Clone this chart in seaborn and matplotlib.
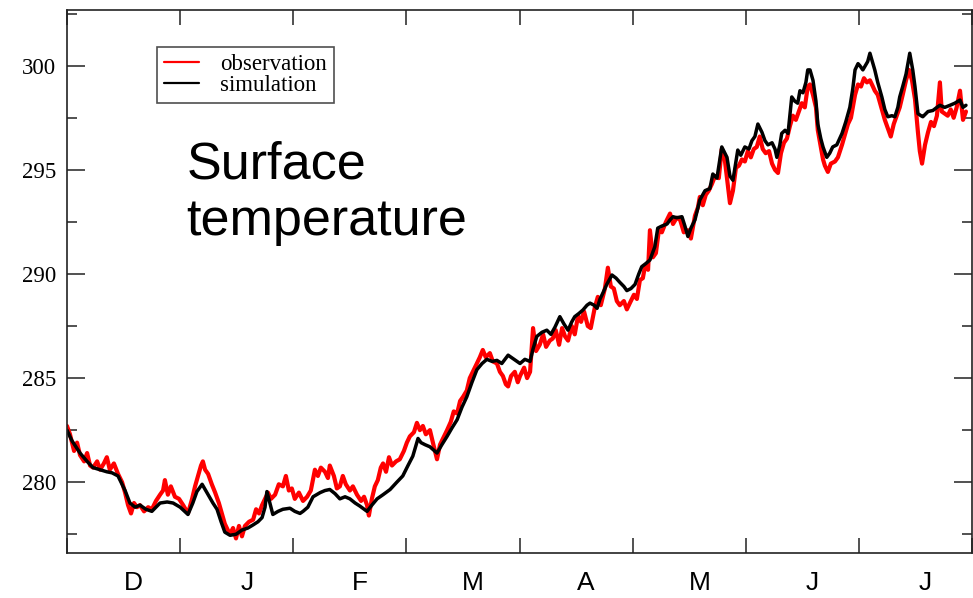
import numpy as np
import pandas as pd
import matplotlib
matplotlib.use("Agg")
import matplotlib.pyplot as plt
import seaborn as sns
from matplotlib.ticker import FixedLocator, FixedFormatter, NullFormatter

# ---------------- data (days since 1 December, temperature in K) ----------------
obs_day = [0.0, 0.8, 1.9, 2.7, 3.5, 4.6, 5.4, 6.2, 7.0, 8.1, 8.9, 9.9, 10.7, 11.5, 12.6, 13.7,
           14.8, 15.6, 16.4, 17.2, 18.0, 18.8, 19.6, 20.7, 21.8, 22.8, 23.9, 25.0, 25.8, 26.3,
           27.1, 27.9, 29.0, 30.1, 31.2, 32.5, 33.6, 34.4, 35.2, 36.0, 36.5, 37.1, 37.9, 38.9,
           39.8, 40.8, 41.6, 42.4, 43.2, 43.8, 44.6, 45.4, 46.2, 47.0, 47.8, 48.9, 50.0, 50.8,
           51.6, 52.4, 53.2, 54.0, 54.8, 55.9, 56.9, 58.0, 58.8, 59.6, 60.4, 61.2, 62.3, 63.4,
           64.5, 65.5, 66.6, 67.4, 68.2, 69.3, 70.1, 70.6, 71.7, 72.5, 73.3, 74.1, 74.9, 76.0,
           76.8, 77.9, 79.0, 79.8, 80.6, 81.1, 81.9, 82.7, 83.5, 84.3, 84.9, 85.7, 86.5, 87.3,
           88.4, 89.4, 90.5, 91.3, 92.1, 93.2, 94.0, 94.8, 95.6, 96.4, 97.5, 98.3, 99.4, 100.2,
           101.3, 102.1, 103.1, 103.9, 104.8, 105.6, 106.4, 107.4, 108.2, 109.3, 110.1, 110.9,
           111.7, 112.5, 113.6, 114.4, 115.5, 116.3, 117.1, 117.9, 118.5, 119.3, 120.3, 121.1,
           121.7, 122.8, 123.6, 124.4, 125.2, 126.0, 127.0, 127.9, 128.7, 129.7, 130.5, 131.3,
           132.2, 133.0, 133.8, 134.6, 135.6, 136.4, 137.3, 138.1, 138.9, 139.9, 140.7, 141.8,
           142.6, 143.4, 144.5, 145.3, 146.1, 146.9, 147.7, 148.5, 149.6, 150.4, 151.2, 152.3,
           153.1, 153.9, 154.7, 155.3, 156.1, 156.6, 157.4, 158.2, 159.0, 159.8, 160.9, 162.0,
           162.8, 163.8, 164.7, 165.7, 166.8, 167.6, 168.7, 169.5, 170.0, 170.8, 171.6, 172.4,
           173.2, 174.1, 175.1, 175.9, 176.7, 177.5, 178.1, 178.9, 179.7, 180.5, 181.3, 182.1,
           182.9, 183.7, 184.5, 185.3, 186.1, 186.9, 187.7, 188.6, 189.4, 190.2, 191.0, 191.8,
           192.6, 193.4, 194.2, 195.0, 195.8, 196.6, 197.4, 198.2, 199.0, 199.6, 200.4, 201.2,
           201.7, 202.3, 203.1, 203.6, 204.4, 205.2, 206.3, 207.1, 208.2, 209.0, 209.8, 210.6,
           211.7, 212.5, 213.3, 214.1, 214.9, 215.7, 216.5, 217.0, 217.8, 218.9, 219.7, 220.5,
           221.3, 222.1, 222.9, 223.7, 224.5, 225.4, 226.2, 227.0, 227.8, 228.6, 229.1, 229.7,
           230.5, 231.3, 232.1, 232.9, 233.7, 234.5, 235.0, 235.8, 236.6, 237.4, 238.2, 239.0,
           239.9, 240.7, 241.5]
obs_temp = [282.7, 282.3, 281.5, 281.9, 281.3, 281.0, 281.4, 280.8, 280.7, 281.0, 280.6, 280.9,
            281.2, 280.6, 280.9, 280.4, 280.0, 279.5, 278.9, 278.5, 279.0, 278.8, 278.9, 278.6,
            278.8, 278.7, 279.1, 279.4, 279.6, 280.1, 279.4, 279.8, 279.3, 279.2, 278.9, 278.5,
            279.2, 279.8, 280.3, 280.8, 281.0, 280.6, 280.4, 279.9, 279.5, 279.0, 278.5, 278.0,
            277.7, 277.5, 277.8, 277.3, 277.9, 277.4, 277.9, 278.1, 278.2, 278.7, 278.5, 278.9,
            279.2, 279.5, 279.2, 279.4, 279.9, 279.8, 280.3, 279.6, 279.7, 279.2, 279.5, 279.1,
            279.3, 279.6, 280.6, 280.3, 280.7, 280.5, 280.2, 280.8, 280.3, 279.7, 279.8, 280.3,
            279.9, 279.6, 279.8, 279.4, 279.1, 279.3, 278.9, 278.4, 279.2, 279.8, 280.1, 280.7,
            280.9, 280.5, 281.2, 280.8, 281.0, 281.1, 281.5, 281.9, 282.2, 282.4, 282.85, 282.5,
            282.7, 282.3, 282.5, 281.9, 281.1, 281.8, 282.2, 282.5, 282.9, 283.4, 283.3, 283.9,
            284.1, 284.4, 285.0, 285.4, 285.7, 286.0, 286.35, 286.0, 286.2, 285.8, 285.7, 285.3,
            285.1, 284.7, 284.6, 285.1, 285.3, 284.8, 285.1, 285.5, 285.0, 285.3, 287.4, 286.3,
            286.6, 287.1, 286.5, 286.8, 286.9, 287.3, 286.6, 287.4, 287.0, 286.8, 287.5, 287.1,
            288.0, 287.7, 288.2, 287.5, 287.4, 288.4, 288.9, 288.5, 289.3, 290.3, 289.4, 289.3,
            288.7, 288.5, 288.7, 288.3, 288.6, 289.0, 288.8, 289.7, 289.8, 290.4, 290.2, 292.1,
            290.8, 291.0, 292.1, 292.0, 292.5, 292.9, 292.4, 292.7, 292.6, 292.0, 292.1, 291.7,
            292.8, 293.2, 293.7, 293.3, 293.8, 294.0, 294.3, 294.7, 294.6, 296.0, 295.5, 294.3,
            293.4, 294.0, 295.1, 295.2, 295.5, 295.4, 295.9, 295.6, 296.0, 296.1, 296.6, 296.0,
            295.8, 295.9, 295.3, 295.0, 294.85, 295.8, 296.3, 296.5, 297.1, 297.6, 297.4, 297.8,
            298.2, 298.0, 299.0, 299.1, 298.6, 298.0, 296.9, 296.3, 295.5, 295.2, 294.9, 295.3,
            295.4, 295.6, 296.2, 296.7, 297.2, 297.5, 298.6, 299.1, 299.0, 299.4, 299.2, 299.3,
            299.0, 298.8, 298.6, 297.9, 297.4, 297.0, 296.6, 297.2, 297.6, 298.0, 298.6, 299.3,
            299.8, 299.3, 298.4, 296.8, 295.9, 295.3, 296.2, 296.8, 297.3, 297.1, 297.6, 299.2,
            297.8, 297.7, 297.6, 297.9, 297.5, 298.0, 298.8, 297.4, 297.8]

sim_day = [0.0, 1.3, 3.5, 5.4, 7.0, 8.9, 10.7, 12.1, 13.7, 15.6, 16.9, 18.3, 19.6, 21.2, 22.8,
           25.0, 26.9, 28.5, 30.4, 32.5, 33.8, 34.9, 36.3, 37.9, 39.2, 40.3, 41.4, 42.4, 43.8,
           45.4, 47.0, 48.6, 50.0, 51.3, 52.4, 53.2, 53.7, 54.5, 55.3, 56.7, 58.0, 59.9, 61.2,
           62.6, 63.4, 64.7, 66.1, 68.0, 69.3, 70.6, 72.0, 73.3, 74.7, 76.0, 77.4, 78.7, 80.6,
           81.9, 83.3, 84.9, 86.8, 88.6, 90.2, 91.6, 92.9, 94.3, 95.1, 96.2, 97.5, 99.4, 100.7,
           102.1, 103.4, 104.8, 106.1, 107.4, 108.8, 110.1, 111.5, 112.8, 114.2, 115.5, 116.8,
           118.5, 120.1, 121.7, 123.0, 124.4, 125.2, 126.2, 127.6, 128.9, 130.0, 131.1, 132.4,
           133.5, 134.6, 135.6, 136.4, 137.5, 138.6, 139.7, 140.5, 141.6, 142.4, 143.2, 144.0,
           145.0, 146.4, 147.5, 148.5, 149.6, 150.4, 151.5, 152.6, 153.6, 154.4, 155.5, 156.6,
           157.9, 158.7, 159.8, 161.2, 162.0, 162.8, 163.8, 165.2, 166.0, 166.8, 167.6, 168.7,
           170.0, 171.4, 172.7, 173.5, 174.6, 175.9, 177.3, 178.1, 178.9, 180.2, 181.0, 182.1,
           183.2, 184.0, 184.8, 185.6, 186.7, 187.5, 188.3, 189.4, 190.2, 190.7, 191.5, 192.0,
           192.9, 193.7, 194.2, 194.7, 195.5, 196.3, 196.9, 197.7, 198.5, 199.0, 199.6, 200.4,
           201.2, 201.7, 202.5, 203.1, 204.1, 204.9, 205.7, 206.8, 208.2, 209.2, 210.3, 211.1,
           211.7, 212.5, 213.0, 213.8, 214.3, 215.1, 215.7, 216.5, 217.0, 217.8, 218.9, 219.7,
           220.5, 221.6, 222.4, 223.2, 223.7, 224.5, 225.4, 225.9, 226.4, 227.2, 227.8, 228.6,
           229.4, 229.9, 231.3, 232.6, 233.7, 234.5, 235.8, 237.2, 238.5, 239.9, 240.7, 241.5]
sim_temp = [282.5, 282.0, 281.4, 281.0, 280.7, 280.6, 280.5, 280.45, 280.3, 279.6, 279.0, 278.8,
            278.9, 278.7, 278.6, 279.0, 279.05, 279.0, 278.8, 278.45, 279.0, 279.55, 279.9, 279.4,
            279.0, 278.7, 278.1, 277.6, 277.45, 277.5, 277.7, 277.8, 277.95, 278.1, 278.3, 278.8,
            279.55, 279.0, 278.45, 278.6, 278.7, 278.75, 278.6, 278.5, 278.6, 278.8, 279.3, 279.5,
            279.6, 279.65, 279.45, 279.2, 279.3, 279.2, 279.0, 278.85, 278.6, 278.9, 279.2, 279.4,
            279.65, 280.0, 280.3, 280.8, 281.25, 282.1, 281.9, 281.8, 281.7, 281.4, 281.8, 282.2,
            282.6, 283.0, 283.6, 284.1, 284.8, 285.4, 285.7, 285.9, 285.8, 285.85, 285.7, 286.1,
            285.9, 285.7, 285.9, 285.8, 286.4, 287.0, 287.2, 287.3, 287.1, 287.45, 287.95, 287.6,
            287.3, 287.7, 287.95, 288.1, 288.27, 288.5, 288.6, 288.5, 288.35, 288.8, 289.1, 289.5,
            289.95, 289.8, 289.6, 289.4, 289.2, 289.3, 289.5, 290.0, 290.35, 290.5, 290.67, 291.3,
            292.2, 292.3, 292.4, 292.6, 292.75, 292.7, 292.75, 292.3, 291.8, 292.2, 292.6, 293.55,
            294.0, 294.1, 294.8, 294.6, 296.1, 295.6, 294.7, 294.5, 295.95, 295.7, 296.1, 296.0,
            296.4, 296.6, 297.2, 296.8, 296.4, 296.2, 296.3, 296.0, 295.6, 296.2, 296.75, 296.9,
            296.75, 297.6, 298.5, 298.3, 298.2, 298.8, 298.7, 299.2, 299.8, 299.8, 299.3, 298.3,
            297.2, 296.5, 296.1, 295.6, 295.8, 296.1, 296.2, 296.75, 297.3, 298.0, 298.9, 299.8,
            300.1, 300.0, 299.8, 299.95, 300.2, 300.6, 300.1, 299.8, 299.2, 298.5, 297.9, 297.55,
            297.6, 297.55, 298.0, 298.5, 299.0, 299.6, 300.1, 300.6, 299.8, 299.0, 297.7, 297.6,
            297.55, 297.8, 297.85, 298.0, 298.1, 298.0, 298.1, 298.2, 298.35, 298.0, 298.1]

month_labels = ["D", "J", "F", "M", "A", "M", "J", "J"]
month_len = 30.39
y_major = [280, 285, 290, 295, 300]
y_minor = [277.5, 282.5, 287.5, 292.5, 297.5, 302.5]
series_names = ["observation", "simulation"]
series_colors = ["#ff0000", "#000000"]

# ---------------- style ----------------
sns.set_theme(style="white")
plt.rcParams["font.family"] = ["Liberation Serif", "DejaVu Serif"]
plt.rcParams["text.color"] = "black"
plt.rcParams["xtick.color"] = "black"
plt.rcParams["ytick.color"] = "black"
plt.rcParams["xtick.labelcolor"] = "black"
plt.rcParams["ytick.labelcolor"] = "black"

W, H = 973, 598
fig = plt.figure(figsize=(W / 100, H / 100), dpi=100)
left, right, top, bottom = 67, 972, 9.5, 553
ax = fig.add_axes([left / W, 1 - bottom / H, (right - left) / W, (bottom - top) / H])

df_obs = pd.DataFrame({"day": obs_day, "temp": obs_temp})
df_sim = pd.DataFrame({"day": sim_day, "temp": sim_temp})

sns.lineplot(data=df_obs, x="day", y="temp", color=series_colors[0], linewidth=3.0,
             sort=False, estimator=None, ax=ax, label=series_names[0])
sns.lineplot(data=df_sim, x="day", y="temp", color=series_colors[1], linewidth=2.5,
             sort=False, estimator=None, ax=ax, label=series_names[1])

ax.set_xlim(0, 8 * month_len)
ax.set_ylim(276.6, 302.7)
ax.set_xlabel("")
ax.set_ylabel("")

# x axis: month boundaries as ticks, labels within months
ax.xaxis.set_major_locator(FixedLocator([i * month_len for i in range(9)]))
ax.xaxis.set_major_formatter(NullFormatter())
ax.xaxis.set_minor_locator(FixedLocator([(i + 0.59) * month_len for i in range(8)]))
ax.xaxis.set_minor_formatter(FixedFormatter(month_labels))
ax.tick_params(axis="x", which="major", direction="in", length=11, width=1.1,
               top=True, bottom=True, color="#222222")
ax.tick_params(axis="x", which="minor", length=0, pad=13, labelsize=19, labelcolor="black")
for lbl in ax.get_xticklabels(minor=True):
    lbl.set_fontfamily(["Liberation Sans", "DejaVu Sans"])

# y axis
ax.yaxis.set_major_locator(FixedLocator(y_major))
ax.yaxis.set_minor_locator(FixedLocator(y_minor))
ax.tick_params(axis="y", which="major", direction="in", length=13, width=1.1,
               left=True, right=True, labelsize=16.5, pad=8, color="#222222",
               labelcolor="black")
ax.tick_params(axis="y", which="minor", direction="in", length=7.5, width=1.1,
               left=True, right=True, color="#222222")

for sp in ax.spines.values():
    sp.set_visible(True)
    sp.set_color("#222222")
    sp.set_linewidth(1.2)

ax.grid(False)

# legend
leg = ax.legend(loc="upper left", bbox_to_anchor=(157 / W, 1 - 47 / H),
                bbox_transform=fig.transFigure, frameon=True, fancybox=False,
                edgecolor="#222222", fontsize=16.5, handlelength=1.55, handletextpad=0.9,
                borderpad=0.3, labelspacing=0.0, borderaxespad=0)
leg.get_frame().set_linewidth(1.2)
for t in leg.get_texts():
    t.set_color("black")
for ln in leg.get_lines():
    ln.set_linewidth(1.6)

# annotation text
fig.text(186.7 / W, 1 - 178.3 / H, "Surface", fontsize=37.5, va="baseline", ha="left",
         color="black", family=["Liberation Sans", "DejaVu Sans"])
fig.text(186.7 / W, 1 - 235 / H, "temperature", fontsize=37.5, va="baseline", ha="left",
         color="black", family=["Liberation Sans", "DejaVu Sans"])

fig.savefig("out.png", dpi=100)
